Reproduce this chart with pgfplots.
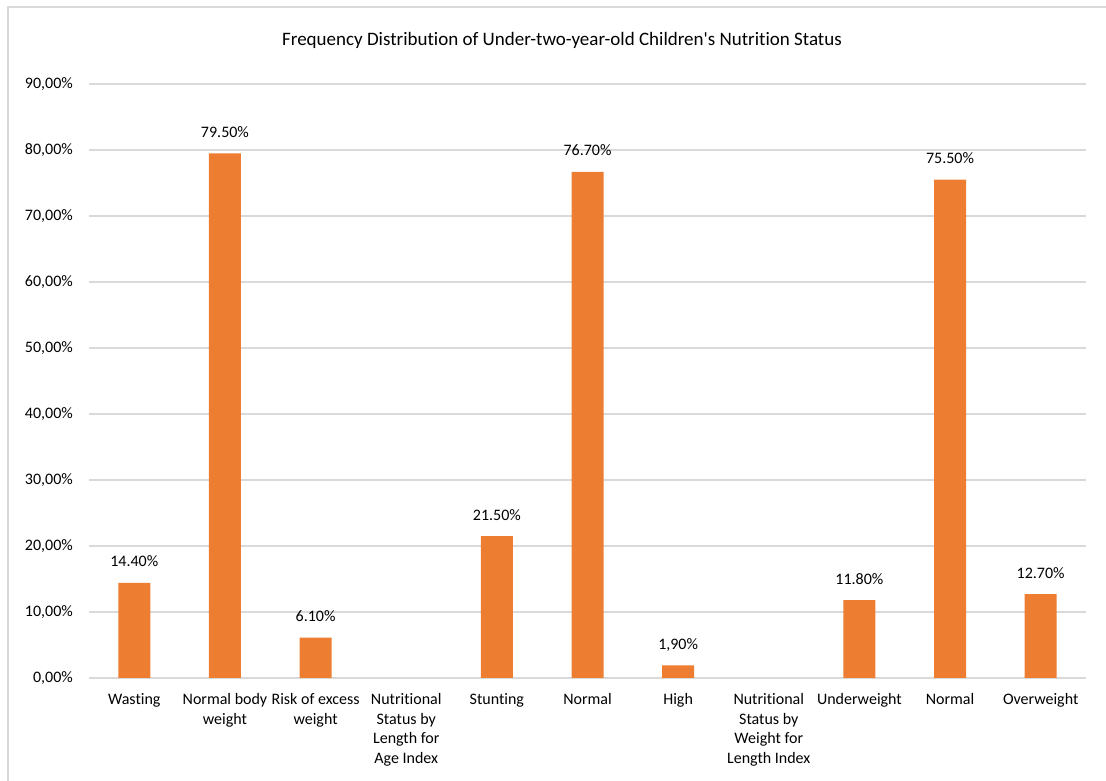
\documentclass[border=0pt]{standalone}
\usepackage{fontspec}
\setmainfont{Carlito}[Ligatures=NoCommon]
\usepackage{pgfplots}
\pgfplotsset{compat=1.18}
\definecolor{barorange}{HTML}{ED7D31}
\definecolor{gridgray}{HTML}{D9D9D9}
\begin{document}
\begin{tikzpicture}[x=1pt,y=1pt]
\path[use as bounding box] (0,0) rectangle (1106,781);
\draw[gridgray, line width=1.5pt] (8,0) -- (8,774) -- (1106,774);
\node[font=\fontsize{19}{23}\selectfont, anchor=base] at (562,735) {Frequency Distribution of Under-two-year-old Children\textquotesingle s Nutrition Status};
\begin{axis}[
  at={(89pt,103pt)}, anchor=south west,
  width=997pt, height=594pt, scale only axis,
  xmin=-0.5, xmax=10.5, ymin=0, ymax=90,
  axis line style={draw=none},
  tick style={draw=none},
  ymajorgrids, grid style={gridgray, line width=1.5pt},
  ytick={0,10,...,90},
  yticklabels={{0,00\%},{10,00\%},{20,00\%},{30,00\%},{40,00\%},{50,00\%},{60,00\%},{70,00\%},{80,00\%},{90,00\%}},
  yticklabel style={font=\fontsize{16}{19.5}\selectfont, anchor=east, inner sep=0pt, xshift=-16pt},
  xtick={0,...,10},
  xticklabels={Wasting,{Normal body\\weight},{Risk of excess\\weight},{Nutritional\\Status by\\Length for\\Age Index},Stunting,Normal,High,{Nutritional\\Status by\\Weight for\\Length Index},Underweight,Normal,Overweight},
  xticklabel style={font=\fontsize{16}{19.5}\selectfont, align=center, anchor=north, inner sep=0pt, yshift=-11pt},
  ybar, bar width=32pt,
  nodes near coords,
  point meta=explicit symbolic,
  every node near coord/.append style={font=\fontsize{16}{19.5}\selectfont, anchor=base, inner sep=0pt, yshift=16pt, color=black},
]
\addplot[fill=barorange, draw=none, bar shift=0pt] table[x=x, y=y, meta=label] {
x y label
0 14.4 14.40\%
1 79.5 79.50\%
2 6.1 6.10\%
4 21.5 21.50\%
5 76.7 76.70\%
6 1.9 1,90\%
8 11.8 11.80\%
9 75.5 75.50\%
10 12.7 12.70\%
};
\end{axis}
\end{tikzpicture}
\end{document}
